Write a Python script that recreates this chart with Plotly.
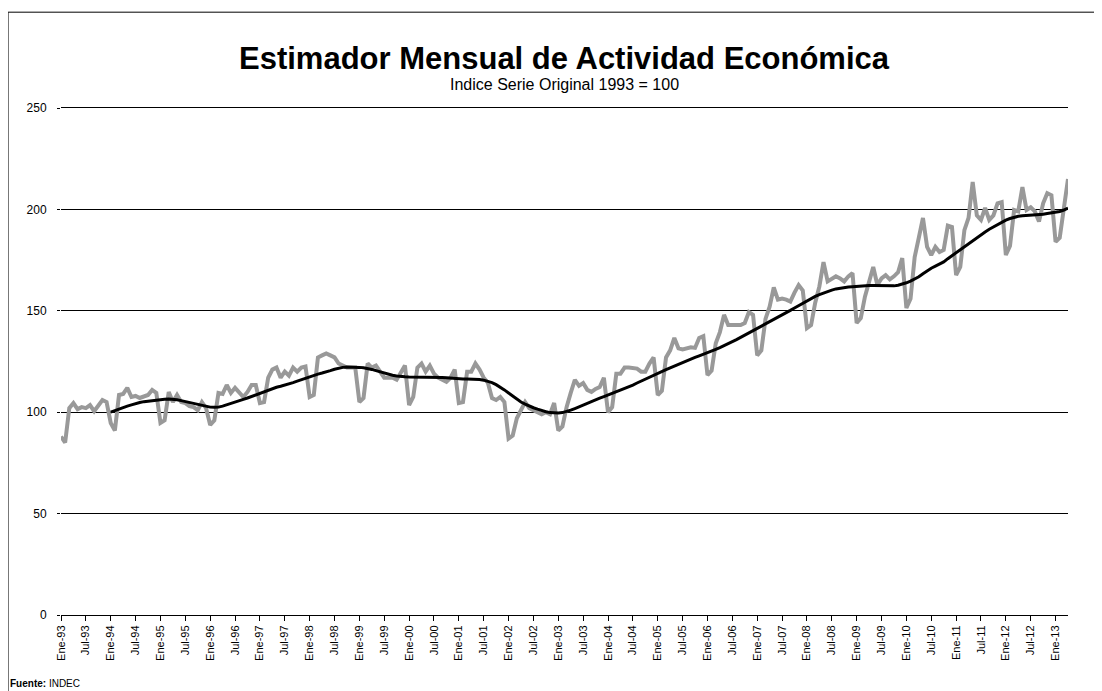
import plotly.graph_objects as go

MESES = ["Ene", "Feb", "Mar", "Abr", "May", "Jun", "Jul", "Ago", "Sep", "Oct", "Nov", "Dic"]
ANIOS = list(range(1993, 2014))

# serie original, por año (ene..dic), 1993 = 100
orig_1993 = [88, 85, 102, 104.5, 101.5, 102.5, 102, 103.5, 100.5, 103, 106, 105]
orig_1994 = [94.7, 91, 108.5, 109, 112, 107.5, 108, 107, 108, 108.5, 111, 109.5]
orig_1995 = [94.7, 96, 110, 105, 108.5, 105, 104.5, 103, 102.5, 101, 105, 102]
orig_1996 = [93.7, 96, 109.5, 109, 113.4, 109.5, 112, 110, 107.5, 110, 113.4, 113.4]
orig_1997 = [104.5, 105, 117, 121, 122, 117, 120, 118, 122, 120, 122, 122.5]
orig_1998 = [107.5, 108.5, 127, 128, 129, 128, 127, 124, 123, 122, 122, 122]
orig_1999 = [105, 107, 124, 122, 123, 120, 117, 117, 117, 116, 120, 123]
orig_2000 = [103.5, 107.5, 122, 124, 120, 123, 119, 117, 116, 115, 117, 121]
orig_2001 = [104.5, 105, 120, 120, 124, 121, 117, 114.5, 107, 106, 107.5, 105]
orig_2002 = [87, 88.5, 97, 101, 105, 102, 101, 99.6, 99, 100, 99, 104.5]
orig_2003 = [91, 93, 102.5, 109.5, 116, 113, 114.4, 111, 110, 111.5, 112.4, 117]
orig_2004 = [100, 102.5, 119, 119, 122, 122, 121.8, 121.5, 120, 120, 124, 127]
orig_2005 = [108.5, 110.5, 127, 130.5, 136.6, 131.5, 131, 131.5, 132, 131.7, 136.6, 137.5]
orig_2006 = [118.3, 120.5, 134, 139.5, 148, 143, 143, 143, 143, 144, 149.4, 148]
orig_2007 = [128, 130.5, 146, 152, 161.5, 155.5, 156, 155.5, 154.5, 159, 162.7, 160]
orig_2008 = [141.5, 143, 154, 162, 174, 164.5, 165.5, 167, 166, 164.5, 167, 168.6]
orig_2009 = [144, 146.4, 157, 165, 171.6, 162.7, 166, 167.6, 165.5, 167, 169, 176]
orig_2010 = [151.4, 156, 176.5, 186, 195.8, 181.5, 177.5, 181.5, 179, 180, 192, 191.3]
orig_2011 = [167.6, 171.6, 189.8, 195.8, 213.5, 197, 194.8, 200.7, 194.8, 197, 203, 203.6]
orig_2012 = [177.5, 182, 199.7, 199, 211, 199.7, 201, 199, 194, 203, 208, 207]
orig_2013 = [184, 186, 201, 215]

# tendencia-ciclo (desde ene-94)
tend_1994 = [100.0, 100.8, 101.6, 102.4, 103.0, 103.6, 104.3, 104.8, 105.2, 105.5, 105.8, 106.0]
tend_1995 = [106.2, 106.4, 106.5, 106.4, 106.1, 105.7, 105.2, 104.7, 104.2, 103.7, 103.2, 102.8]
tend_1996 = [102.5, 102.4, 102.5, 103.0, 103.6, 104.3, 104.9, 105.6, 106.3, 107.0, 107.8, 108.6]
tend_1997 = [109.4, 110.2, 111.0, 111.8, 112.3, 112.8, 113.3, 113.9, 114.6, 115.3, 116.0, 116.7]
tend_1998 = [117.5, 118.3, 118.8, 119.3, 119.8, 120.5, 121.2, 121.8, 122.1, 122.3, 122.3, 122.2]
tend_1999 = [122.1, 121.9, 121.6, 121.1, 120.5, 119.9, 119.3, 118.7, 118.2, 117.9, 117.6, 117.5]
tend_2000 = [117.4, 117.4, 117.4, 117.4, 117.4, 117.3, 117.3, 117.2, 117.1, 117.0, 116.8, 116.6]
tend_2001 = [116.4, 116.4, 116.4, 116.4, 116.3, 116.1, 115.8, 115.3, 114.6, 113.6, 112.4, 111.0]
tend_2002 = [109.5, 108.0, 106.5, 105.0, 104.0, 103.0, 102.2, 101.5, 100.8, 100.2, 99.8, 99.6]
tend_2003 = [99.6, 99.8, 100.3, 101.0, 101.8, 102.7, 103.6, 104.5, 105.3, 106.1, 106.9, 107.7]
tend_2004 = [108.5, 109.3, 110.0, 110.8, 111.7, 112.5, 113.4, 114.4, 115.4, 116.3, 117.3, 118.2]
tend_2005 = [119.2, 120.1, 121.0, 121.9, 122.8, 123.6, 124.4, 125.3, 126.1, 127.0, 127.8, 128.7]
tend_2006 = [129.5, 130.3, 131.0, 131.8, 132.7, 133.7, 134.8, 135.8, 136.9, 138.0, 139.0, 140.0]
tend_2007 = [141.1, 142.1, 143.2, 144.3, 145.4, 146.6, 147.8, 149.0, 150.2, 151.4, 152.6, 153.8]
tend_2008 = [155.0, 156.1, 157.1, 158.0, 158.8, 159.6, 160.2, 160.8, 161.2, 161.5, 161.7, 161.9]
tend_2009 = [162.1, 162.3, 162.4, 162.5, 162.5, 162.4, 162.3, 162.2, 162.2, 162.3, 162.6, 163.1]
tend_2010 = [163.8, 164.6, 165.6, 166.8, 168.3, 169.8, 171.0, 172.0, 172.9, 174.1, 175.7, 177.2]
tend_2011 = [178.5, 180.0, 181.6, 183.1, 184.6, 186.1, 187.5, 188.9, 190.2, 191.4, 192.6, 193.7]
tend_2012 = [194.7, 195.5, 196.1, 196.6, 196.9, 197.0, 197.0, 197.1, 197.3, 197.6, 198.0, 198.3]
tend_2013 = [198.6, 199.0, 199.7, 200.7]

original = (orig_1993 + orig_1994 + orig_1995 + orig_1996 + orig_1997 + orig_1998 + orig_1999
            + orig_2000 + orig_2001 + orig_2002 + orig_2003 + orig_2004 + orig_2005 + orig_2006
            + orig_2007 + orig_2008 + orig_2009 + orig_2010 + orig_2011 + orig_2012 + orig_2013)
tendencia = [None] * 12 + (tend_1994 + tend_1995 + tend_1996 + tend_1997 + tend_1998 + tend_1999
                           + tend_2000 + tend_2001 + tend_2002 + tend_2003 + tend_2004 + tend_2005
                           + tend_2006 + tend_2007 + tend_2008 + tend_2009 + tend_2010 + tend_2011
                           + tend_2012 + tend_2013)

etiquetas = [f"{m}-{str(a)[2:]}" for a in ANIOS for m in MESES][:len(original)]
ticks = [e for e in etiquetas if e.startswith(("Ene", "Jul"))]

FONT = "Liberation Sans, Arial, sans-serif"

fig = go.Figure()
fig.add_trace(go.Scatter(x=etiquetas, y=original, mode="lines",
                         line=dict(color="#999999", width=4), name="Serie original"))
fig.add_trace(go.Scatter(x=etiquetas, y=tendencia, mode="lines",
                         line=dict(color="#000000", width=3), name="Tendencia-ciclo"))

# la página tiene 8px de margen en el body: la figura es 8px más chica
fig.update_layout(
    width=1094, height=683,
    margin=dict(l=53, r=34, t=100, b=76),
    paper_bgcolor="white", plot_bgcolor="white",
    showlegend=False,
    font=dict(family=FONT, color="black"),
)
fig.update_xaxes(
    type="category", range=[0, len(original) - 1],
    tickmode="array", tickvals=ticks, ticktext=ticks,
    tickangle=-90, tickfont=dict(size=11),
    ticks="outside", ticklen=5, tickcolor="black",
    showline=True, mirror=True, linecolor="black", linewidth=1,
    showgrid=False, zeroline=False,
)
fig.update_yaxes(
    range=[0, 250], dtick=50, tickfont=dict(size=12),
    showgrid=True, gridcolor="black", gridwidth=1,
    ticks="outside", ticklen=3, tickcolor="black",
    ticklabelstandoff=8,
    showline=False, zeroline=False,
)

fig.add_annotation(text="<b>Estimador Mensual de Actividad Económica</b>",
                   xref="paper", yref="paper", x=0.5, y=1.0986,
                   xanchor="center", yanchor="middle", showarrow=False,
                   font=dict(size=31, family=FONT))
fig.add_annotation(text="Indice Serie Original 1993 = 100",
                   xref="paper", yref="paper", x=0.5, y=1.047,
                   xanchor="center", yanchor="middle", showarrow=False,
                   font=dict(size=16, family=FONT))
fig.add_annotation(text="<b>Fuente:</b> INDEC",
                   xref="paper", yref="paper", x=-0.0526, y=-0.136,
                   xanchor="left", yanchor="middle", showarrow=False,
                   font=dict(size=10, family=FONT))

# marco del gráfico
fig.add_shape(type="rect", xref="paper", yref="paper",
              x0=-0.0526, x1=1.0278, y0=-0.2, y1=1.189,
              line=dict(color="black", width=1))

fig.write_html("out.html")
